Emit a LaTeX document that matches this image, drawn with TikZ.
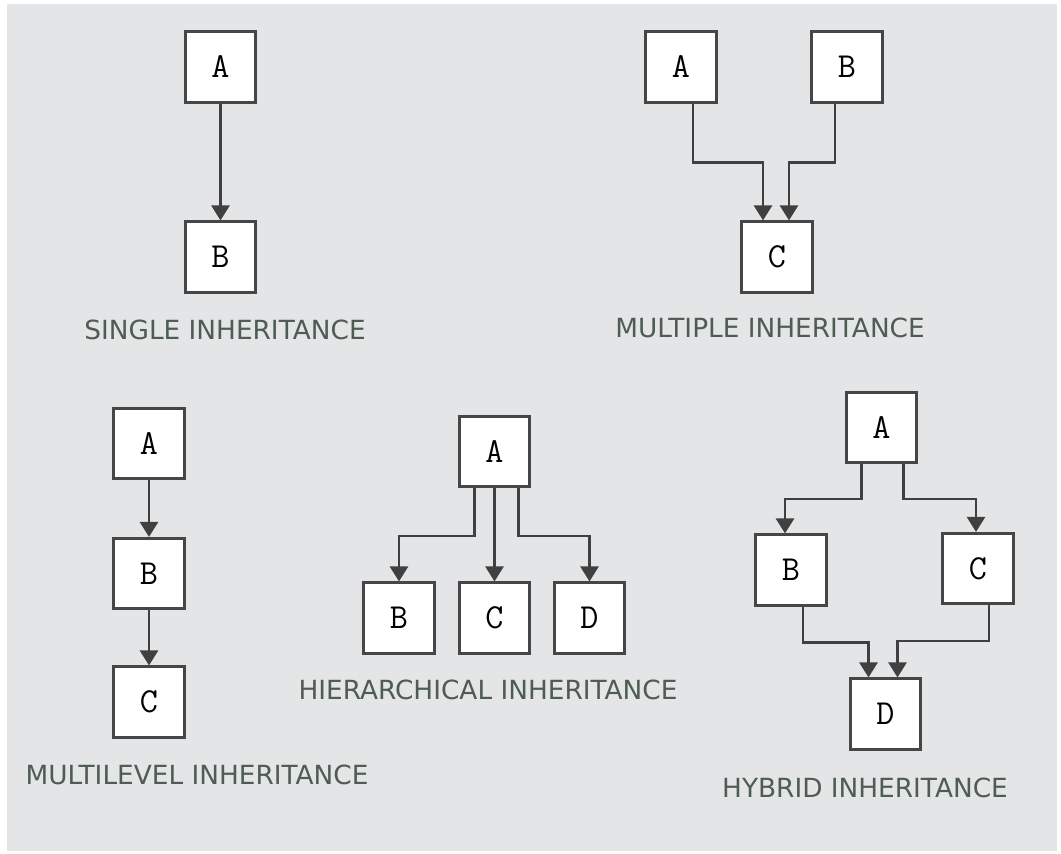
\documentclass[tikz,border=0pt]{standalone}
\usepackage{fontspec}
\setsansfont{DejaVu Sans}
\usetikzlibrary{arrows.meta, calc}
\definecolor{panelgray}{RGB}{228,229,231}
\definecolor{boxline}{RGB}{70,70,70}
\definecolor{captiongreen}{RGB}{78,92,82}

\begin{document}
\begin{tikzpicture}[x=0.02cm, y=-0.02cm,
    cls/.style={draw=boxline, fill=white, line width=1.5pt, minimum size=1.41cm,
                inner sep=0pt, font=\ttfamily\fontsize{20}{20}\selectfont},
    caption/.style={text=captiongreen, font=\sffamily\fontsize{15}{15}\selectfont},
    link/.style={-{Triangle[width=0.36cm, length=0.3cm]}, draw=black!75, line width=1.5pt}]
  \useasboundingbox (0,0) rectangle (1061,854);
  \fill[panelgray] (7,4) rectangle (1057,851);

  % single inheritance
  \node[cls] (sA) at (220.5,67) {A};
  \node[cls] (sB) at (220.5,257) {B};
  \node[caption] (sCap) at (225,330) {SINGLE INHERITANCE};
  \draw[link] (sA) -- (sB);

  % multiple inheritance
  \node[cls] (mA) at (681,67) {A};
  \node[cls] (mB) at (847,67) {B};
  \node[cls] (mC) at (777,257) {C};
  \node[caption] (mCap) at (770,328) {MULTIPLE INHERITANCE};
  \draw[link] ([xshift=0.24cm]mA.south) -- ++(0,59) -| ([xshift=-0.28cm]mC.north);
  \draw[link] ([xshift=-0.24cm]mB.south) -- ++(0,59) -| ([xshift=0.24cm]mC.north);

  % multilevel inheritance
  \node[cls] (lA) at (149,443.5) {A};
  \node[cls] (lB) at (149,573.5) {B};
  \node[cls] (lC) at (149,702) {C};
  \node[caption] (lCap) at (197,775) {MULTILEVEL INHERITANCE};
  \draw[link] (lA) -- (lB);
  \draw[link] (lB) -- (lC);

  % hierarchical inheritance
  \node[cls] (hA) at (494.5,451.5) {A};
  \node[cls] (hB) at (399,618) {B};
  \node[cls] (hC) at (494.5,618) {C};
  \node[cls] (hD) at (589.5,618) {D};
  \node[caption] (hCap) at (488,690) {HIERARCHICAL INHERITANCE};
  \draw[link] ([xshift=-0.4cm]hA.south) -- ++(0,48) -| (hB.north);
  \draw[link] (hA) -- (hC);
  \draw[link] ([xshift=0.48cm]hA.south) -- ++(0,48) -| (hD.north);

  % hybrid inheritance
  \node[cls] (yA) at (881.5,427.5) {A};
  \node[cls] (yB) at (791,570) {B};
  \node[cls] (yC) at (978,568.5) {C};
  \node[cls] (yD) at (885.5,714) {D};
  \node[caption] (yCap) at (865,788) {HYBRID INHERITANCE};
  \draw[link] ([xshift=-0.4cm]yA.south) -- ++(0,35) -| ([xshift=-0.12cm]yB.north);
  \draw[link] ([xshift=0.44cm]yA.south) -- ++(0,35) -| ([xshift=-0.04cm]yC.north);
  \draw[link] ([xshift=0.24cm]yB.south) -- ++(0,36) -| ([xshift=-0.34cm]yD.north);
  \draw[link] ([xshift=0.22cm]yC.south) -- ++(0,36) -| ([xshift=0.24cm]yD.north);
\end{tikzpicture}
\end{document}
